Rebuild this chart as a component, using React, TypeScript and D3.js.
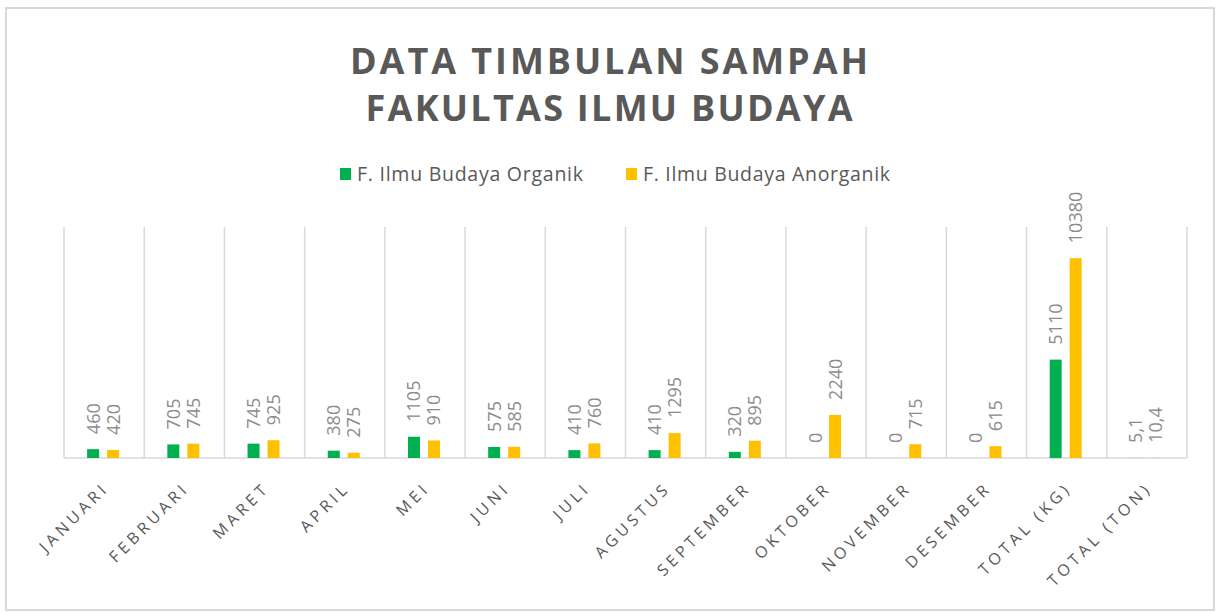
import React from "react";
import * as d3 from "d3";

const categories = [
  "JANUARI", "FEBRUARI", "MARET", "APRIL", "MEI", "JUNI", "JULI", "AGUSTUS",
  "SEPTEMBER", "OKTOBER", "NOVEMBER", "DESEMBER", "TOTAL (KG)", "TOTAL (TON)",
];
const organik = [460, 705, 745, 380, 1105, 575, 410, 410, 320, 0, 0, 0, 5110, 5.1];
const anorganik = [420, 745, 925, 275, 910, 585, 760, 1295, 895, 2240, 715, 615, 10380, 10.4];
const seriesNames = ["F. Ilmu Budaya Organik", "F. Ilmu Budaya Anorganik"];
const seriesColors = ["#00B050", "#FFC000"];
const titleLines = ["DATA TIMBULAN SAMPAH", "FAKULTAS ILMU BUDAYA"];
const yMax = 12000;

const W = 1216;
const H = 612;
const plot = { left: 64, right: 1187, top: 227, bottom: 458 };
const FONT = "'Open Sans', 'DejaVu Sans', sans-serif";

export default function App() {
  const x = d3.scaleBand<string>().domain(categories).range([plot.left, plot.right]).padding(0);
  const y = d3.scaleLinear().domain([0, yMax]).range([plot.bottom, plot.top]);
  const bw = x.bandwidth();
  const barW = 12;
  const offsets = [-11, 9];
  const series = [organik, anorganik];
  const fmt = (v: number) => String(v).replace(".", ",");

  const boundaries = categories.map((c) => x(c) as number).concat([plot.right]);

  return (
    <svg width={W} height={H} style={{ position: "absolute", left: 0, top: 0, background: "#fff" }}>
      <rect x={6} y={8} width={1208} height={602} fill="#fff" stroke="#D9D9D9" strokeWidth={2} />
      {titleLines.map((t, i) => (
        <text
          key={t}
          x={609}
          y={74 + i * 47}
          textAnchor="middle"
          fontFamily={FONT}
          fontWeight={700}
          fontSize={36}
          fill="#595959"
          textLength={i === 0 ? 518 : 487}
          lengthAdjust="spacing"
        >
          {t}
        </text>
      ))}
      {/* legend */}
      {seriesNames.map((n, i) => {
        const lx = i === 0 ? 340 : 626;
        return (
          <g key={n}>
            <rect x={lx} y={168} width={11} height={12} fill={seriesColors[i]} />
            <text
              x={lx + 17}
              y={181}
              fontFamily={FONT}
              fontSize={19.5}
              fill="#595959"
              textLength={i === 0 ? 226 : 247}
              lengthAdjust="spacing"
            >
              {n}
            </text>
          </g>
        );
      })}
      {/* gridlines */}
      {boundaries.map((b, i) => (
        <line key={i} x1={b} x2={b} y1={plot.top} y2={plot.bottom} stroke="#D9D9D9" strokeWidth={1.5} />
      ))}
      <line x1={plot.left} x2={plot.right} y1={plot.bottom} y2={plot.bottom} stroke="#D9D9D9" strokeWidth={1.5} />
      {/* bars */}
      {series.map((vals, si) =>
        vals.map((v, ci) => {
          const cx = (x(categories[ci]) as number) + bw / 2 + offsets[si];
          const top = y(v);
          return (
            <g key={`${si}-${ci}`}>
              <rect x={cx - barW / 2} y={top} width={barW} height={plot.bottom - top} fill={seriesColors[si]} />
              <text
                transform={`translate(${cx},${top - 15}) rotate(-90)`}
                dy="0.36em"
                fontFamily={FONT}
                fontSize={18}
                fill="#8C8C8C"
              >
                {fmt(v)}
              </text>
            </g>
          );
        })
      )}
      {/* x labels */}
      {categories.map((c) => {
        const cx = (x(c) as number) + bw / 2;
        return (
          <text
            key={c}
            transform={`translate(${cx + 6},${plot.bottom + 31}) rotate(-45)`}
            textAnchor="end"
            fontFamily={FONT}
            fontSize={16}
            letterSpacing={4}
            fill="#595959"
          >
            {c}
          </text>
        );
      })}
    </svg>
  );
}
